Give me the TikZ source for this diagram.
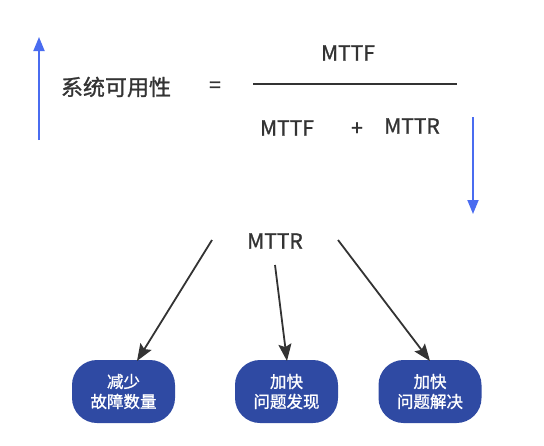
\documentclass[tikz,border=0pt]{standalone}
\usepackage{fontspec}
\setmainfont{Noto Sans CJK SC}[FakeBold=1.2]
\newfontfamily\mediumfont{Noto Sans CJK SC}[FakeBold=1.2]
\usetikzlibrary{arrows.meta}
\definecolor{bluearrow}{HTML}{4A6CF0}
\definecolor{boxblue}{HTML}{2F4AA3}
\definecolor{ink}{HTML}{333333}
\tikzset{
  txt/.style={inner sep=0pt, text=ink, font=\mediumfont\fontsize{21}{24}\selectfont},
  cjk/.style={inner sep=0pt, text=ink, font=\mediumfont\fontsize{22}{26}\selectfont},
  blueconn/.style={draw=bluearrow, line width=1.8pt, -{Triangle[length=14pt,width=11pt]}},
  conn/.style={draw=ink, line width=1.8pt, -{Stealth[length=17pt,width=13pt,inset=3pt]}},
  boxnode/.style={fill=boxblue, rounded corners=25pt, minimum width=103pt, minimum height=63pt,
    text=white, align=center, inner sep=0pt, font=\mediumfont\fontsize{16.5}{20}\selectfont},
}
\begin{document}
\begin{tikzpicture}[x=1pt,y=-1pt]
\useasboundingbox (0,0) rectangle (544,445);
% left up arrow
\coordinate (ua1) at (39,140);
\coordinate (ua2) at (39,37);
\draw[blueconn] (ua1) -- (ua2);
% formula
\node[cjk] (avail) at (116,87) {系统可用性};
\node[txt] (eq) at (215,87) {=};
\node[txt] (num) at (348,53) {MTTF};
\coordinate (fl1) at (253,84);
\coordinate (fl2) at (457,84);
\draw[ink, line width=1.3pt] (fl1) -- (fl2);
\node[txt] (den1) at (287,128) {MTTF};
\node[txt] (plus) at (357,129) {+};
\node[txt] (den2) at (412,126) {MTTR};
% right down arrow
\coordinate (da1) at (473,117);
\coordinate (da2) at (473,214);
\draw[blueconn] (da1) -- (da2);
% MTTR tree
\node[txt] (mttr) at (275,241) {MTTR};
\node[boxnode] (b1) at (123.5,391.5) {减少\\故障数量};
\node[boxnode] (b2) at (286.5,391.5) {加快\\问题发现};
\node[boxnode] (b3) at (430,391.5) {加快\\问题解决};
\coordinate (s1) at (212,240);
\coordinate (s2) at (275,265);
\coordinate (s3) at (338,240);
\coordinate (e1) at (137,361);
\coordinate (e2) at (287,361);
\coordinate (e3) at (430,361);
\draw[conn] (s1) -- (e1);
\draw[conn] (s2) -- (e2);
\draw[conn] (s3) -- (e3);
\end{tikzpicture}
\end{document}
